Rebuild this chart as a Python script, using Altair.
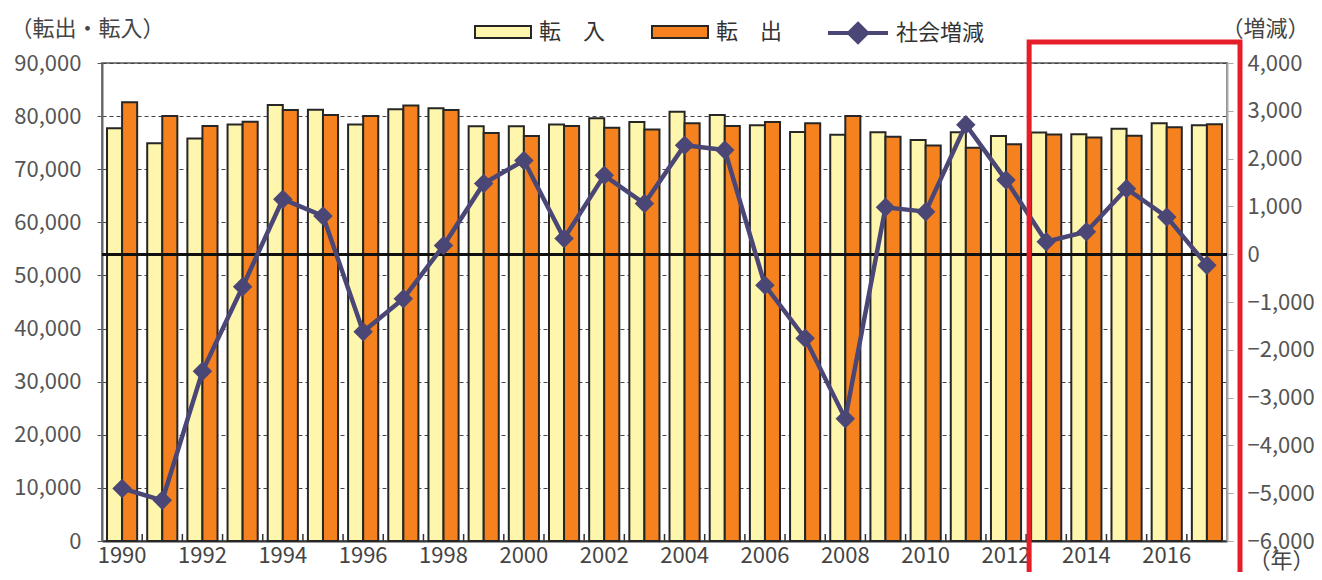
import altair as alt
import pandas as pd

years = list(range(1990, 2018))
tennyu = [77700, 74900, 75800, 78400, 82100, 81200, 78400, 81300, 81500, 78100,
          78100, 78400, 79600, 78900, 80800, 80200, 78300, 77000, 76500, 76950,
          75500, 76950, 76250, 76900, 76600, 77600, 78650, 78300]
tenshutsu = [82600, 80000, 78150, 78950, 81150, 80200, 80000, 82000, 81150, 76800,
             76250, 78150, 77800, 77500, 78650, 78150, 78900, 78650, 80000, 76100,
             74450, 74050, 74700, 76550, 75950, 76300, 77900, 78450]
shakai = [-4900, -5150, -2450, -680, 1150, 800, -1620, -930, 180, 1480,
          1960, 330, 1650, 1060, 2280, 2180, -650, -1760, -3440, 980,
          890, 2710, 1550, 260, 470, 1370, 780, -230]
series_names = ["転　入", "転　出"]
line_name = "社会増減"
highlight_start = [2013]

FONT = "Noto Sans CJK JP"
YELLOW = "#FFF6AE"
ORANGE = "#F5821F"
PURPLE = "#4A4675"
RED = "#E61E2A"

bars_df = pd.DataFrame({
    "year": years * 2,
    "series": [series_names[0]] * len(years) + [series_names[1]] * len(years),
    "value": tennyu + tenshutsu,
})
line_df = pd.DataFrame({"year": years, "value": shakai, "name": line_name})
tick_df = pd.DataFrame({"year": years[1:]})
hl_df = pd.DataFrame({"year": highlight_start})

xscale = alt.Scale(domain=years, paddingInner=0.25, paddingOuter=0.125)

x_axis = alt.Axis(
    labelExpr="datum.value % 2 == 0 ? datum.label : ''",
    labelAngle=0, labelFontSize=22, labelColor="#444", labelPadding=4,
    ticks=False, domainColor="#333", domainWidth=2,
    title="（年）", titleX=1179, titleY=19, titleAlign="center",
    titleBaseline="middle", titleFontSize=22, titleFontWeight="normal",
    titleColor="#444",
)

left_axis = alt.Axis(
    values=list(range(0, 90001, 10000)), format=",d",
    labelFontSize=22, labelColor="#555", labelPadding=16,
    tickSize=5, tickColor="#555", domainColor="#666", domainWidth=2,
    grid=True, gridDash=[4, 3], gridColor="#444", gridWidth=1,
    title="（転出・転入）", titleAngle=0, titleAlign="left", titleBaseline="middle",
    titleX=-92, titleY=-35, titleFontSize=22, titleFontWeight="normal",
    titleColor="#444",
)

right_axis = alt.Axis(
    orient="right", values=list(range(-6000, 4001, 1000)), format=",d",
    labelFontSize=22, labelColor="#555", labelPadding=14,
    tickSize=6, tickColor="#aaa", domainColor="#aaa", domainWidth=2,
    grid=False,
    title="（増減）", titleAngle=0, titleAlign="right", titleBaseline="middle",
    titleX=82, titleY=-35, titleFontSize=22, titleFontWeight="normal",
    titleColor="#444",
)

bars = alt.Chart(bars_df).mark_bar(stroke="#262626", strokeWidth=2).encode(
    x=alt.X("year:O", scale=xscale, axis=x_axis),
    xOffset=alt.XOffset("series:N", sort=series_names, scale=alt.Scale(paddingInner=0, paddingOuter=0)),
    y=alt.Y("value:Q", scale=alt.Scale(domain=[0, 90000], nice=False), axis=left_axis),
    fill=alt.Fill("series:N", sort=series_names,
                  scale=alt.Scale(domain=series_names, range=[YELLOW, ORANGE]),
                  legend=alt.Legend(
                      orient="none", legendX=372, legendY=-60, direction="horizontal",
                      title=None, symbolType="M-1,-0.21L1,-0.21L1,0.21L-1,0.21Z",
                      symbolSize=3136, symbolStrokeColor="#262626", symbolStrokeWidth=2,
                      labelFontSize=22, labelColor="#333", labelOffset=7,
                      columnPadding=42, padding=0)),
)

right_scale = alt.Scale(domain=[-6000, 4000], nice=False)

zero_rule = alt.Chart(line_df).mark_rule(color="#111", strokeWidth=2).encode(
    y=alt.Y(datum=0, type="quantitative", scale=right_scale, axis=right_axis),
)

line = alt.Chart(line_df).mark_line(strokeWidth=4.5).encode(
    x=alt.X("year:O", scale=xscale),
    y=alt.Y("value:Q", scale=right_scale, axis=right_axis),
    stroke=alt.Stroke("name:N", scale=alt.Scale(domain=[line_name], range=[PURPLE]),
                      legend=alt.Legend(
                          orient="none", legendX=724, legendY=-62, title=None,
                          symbolType="M-1,0L1,0M0,-0.3L0.3,0L0,0.3L-0.3,0Z",
                          symbolSize=3600, symbolStrokeWidth=4, symbolFillColor=PURPLE,
                          labelFontSize=22, labelColor="#333", labelOffset=6, padding=0)),
)

points = alt.Chart(line_df).mark_point(shape="diamond", filled=True, size=380,
                                       color=PURPLE, opacity=1).encode(
    x=alt.X("year:O", scale=xscale),
    y=alt.Y("value:Q", scale=right_scale, axis=right_axis),
)

right_layer = alt.layer(zero_rule, line, points)

xticks = alt.Chart(tick_df).mark_rule(color="#333", strokeWidth=1.5, xOffset=-5).encode(
    x=alt.X("year:O", scale=xscale, bandPosition=0),
    y=alt.value(478), y2=alt.value(471),
)

highlight = alt.Chart(hl_df).mark_rect(filled=False, stroke=RED, strokeWidth=5, xOffset=-2).encode(
    x=alt.X("year:O", scale=xscale, bandPosition=0),
    x2=alt.value(1138),
    y=alt.value(-21), y2=alt.value(515),
)

chart = alt.layer(bars, right_layer, xticks, highlight).resolve_scale(
    y="independent"
).properties(
    width=1125, height=478,
    autosize=alt.AutoSizeParams(type="none"),
    padding={"left": 94, "top": 55, "right": 87, "bottom": 31},
).configure(font=FONT).configure_view(stroke="#808080", strokeWidth=2)

chart.save("out.html", embed_options={"renderer": "svg", "actions": False})
